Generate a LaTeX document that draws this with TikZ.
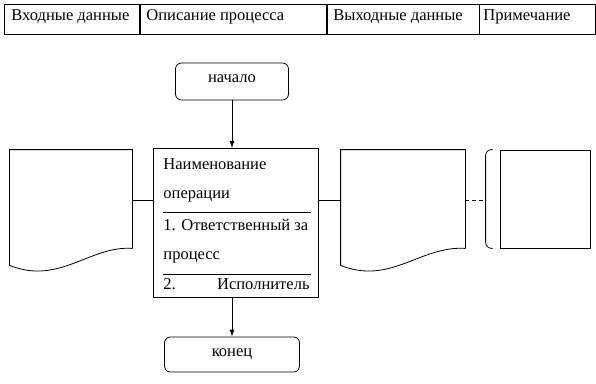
\documentclass[tikz,border=0pt]{standalone}
\usepackage{fontspec}
\setmainfont{Liberation Serif}
\usetikzlibrary{arrows.meta}
\usetikzlibrary{positioning}
\usetikzlibrary{calc}

\begin{document}
\begin{tikzpicture}[x=1bp, y=-1bp, line width=0.8bp,
    every node/.style={font=\fontsize{16.6}{19}\selectfont, inner sep=0pt},
    cell/.style={draw, minimum height=30bp, anchor=north west},
    terminal/.style={draw, rounded corners=6bp},
    doc/.style={minimum height=98bp},
    line/.style={anchor=base west},
    flow/.style={-{Latex[length=7bp, width=5bp]}}]

      \useasboundingbox (0,0) rectangle (596,383);

      % header row
      \node[cell, minimum width=135bp] (h1) at (4,4) {};
      \node[cell, minimum width=186bp] (h2) at (h1.north east) {};
      \node[cell, minimum width=152bp] (h3) at (h2.north east) {};
      \node[cell, minimum width=116bp] (h4) at (h3.north east) {};
      \node[line] at (11,20) {Входные данные};
      \node[line] at (146,20) {Описание процесса};
      \node[line] at (333,20) {Выходные данные};
      \node[line] at (483,20) {Примечание};

      % start and end
      \node[terminal, minimum width=113bp, minimum height=37bp, text depth=6bp] (start) at (232,81.5) {начало};
      \node[terminal, minimum width=135bp, minimum height=35bp] (stop) at (232,354.5) {конец};

      % process box
      \node[draw, anchor=north west, minimum width=165bp, minimum height=149bp] (proc) at (153,148) {};
      \draw ([xshift=10bp]proc.west |- 0,212) -- ([xshift=-8bp]proc.east |- 0,212);
      \draw ([xshift=10bp]proc.west |- 0,274) -- ([xshift=-8bp]proc.east |- 0,274);
      \node[line] (t1) at (163,169) {Наименование};
      \node[line] (t2) at (163,198) {операции};
      \node[line] (t3) at (163,230) {1. Ответственный за};
      \node[line] (t4) at (163,259) {процесс};
      \node[line] (t5) at (163,289) {2.};
      \node[anchor=base east] (t6) at (310,289) {Исполнитель};

      % documents
      \node[doc, minimum width=122bp] (indoc) at (71,199) {};
      \node[doc, minimum width=124bp] (outdoc) at (403,199) {};
      \foreach \d in {indoc, outdoc} {
        \draw (\d.south east) -- (\d.north east) -- (\d.north west) -- ([yshift=-17bp]\d.south west)
          .. controls ($(\d.south west)+(50,37)$) and ($(\d.south west)+(80,-3)$) .. (\d.south east);
      }

      % note
      \node[draw, minimum width=90bp, minimum height=98bp] (note) at (545,199) {};
      \draw[rounded corners=6bp] ([xshift=-7bp]note.north west) -| ([xshift=-14bp]note.south west) -- ([xshift=-7bp]note.south west);
      \coordinate (bracket) at ([xshift=-14bp]note.west);

      % connectors
      \draw[flow] (start) -- (start |- proc.north);
      \draw[flow] (start |- proc.south) -- (stop);
      \draw (indoc.east |- 0,200) -- (proc.west |- 0,200);
      \draw (proc.east |- 0,200) -- (outdoc.west |- 0,200);
      \draw[dash pattern=on 4bp off 3bp] (outdoc.east |- 0,200) -- (bracket |- 0,200);
    \end{tikzpicture}
\end{document}
